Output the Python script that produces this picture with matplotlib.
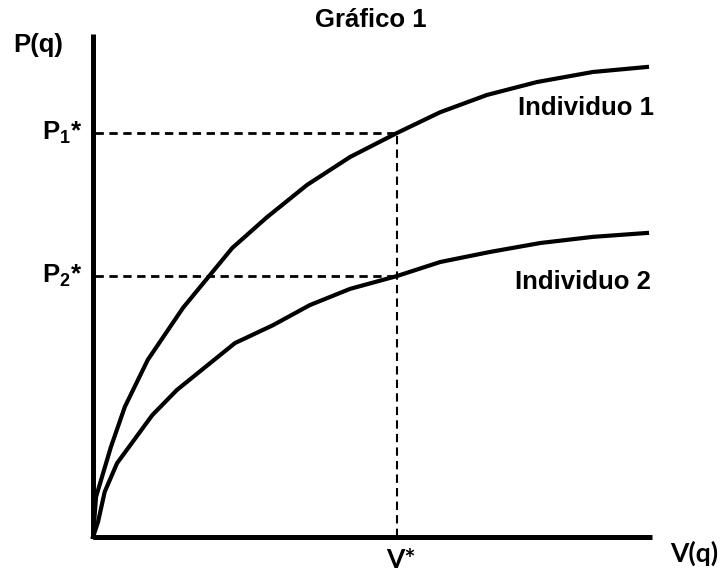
import matplotlib.pyplot as plt

plt.rcParams['font.family'] = ['Liberation Sans', 'DejaVu Sans']
plt.rcParams['mathtext.fontset'] = 'custom'
plt.rcParams['mathtext.rm'] = 'Liberation Sans'
plt.rcParams['mathtext.bf'] = 'Liberation Sans:bold'

# Curvas
v1 = [0, 0.054, 0.32, 0.57, 0.98, 1.61, 2.49, 3.11, 3.83, 4.60, 5.44, 6.21, 7.05, 7.94, 8.94, 9.91]
p1 = [0, 0.716, 1.61, 2.33, 3.17, 4.10, 5.17, 5.72, 6.30, 6.80, 7.23, 7.60, 7.91, 8.14, 8.32, 8.41]
v2 = [0, 0.09, 0.21, 0.43, 1.06, 1.50, 2.54, 3.22, 3.88, 4.60, 5.44, 6.21, 7.10, 8.00, 8.94, 9.91]
p2 = [0, 0.27, 0.81, 1.32, 2.18, 2.63, 3.47, 3.79, 4.15, 4.44, 4.67, 4.92, 5.10, 5.26, 5.37, 5.44]

v_star = 5.44
p1_star = 7.23
p2_star = 4.67

fig = plt.figure(figsize=(7.26, 5.71), dpi=100)
ax = fig.add_axes([93 / 726, 34 / 571, 559 / 726, 503 / 571])
ax.set_xlim(0, 10)
ax.set_ylim(0, 9)
ax.axis('off')

# eixos
ax.plot([0, 0], [0, 9], color='black', lw=3.6, clip_on=False, solid_capstyle='butt')
ax.plot([0, 10], [0, 0], color='black', lw=3.6, clip_on=False, solid_capstyle='butt')

# curvas
ax.plot(v1, p1, color='black', lw=3, clip_on=False)
ax.plot(v2, p2, color='black', lw=3, clip_on=False)

# linhas tracejadas
ax.plot([0.03, v_star], [p1_star, p1_star], color='black', lw=2, dashes=(3, 2), clip_on=False)
ax.plot([0.03, v_star], [p2_star, p2_star], color='black', lw=2, dashes=(3, 2), clip_on=False)
ax.plot([v_star, v_star], [0, p1_star], color='black', lw=1.5, dashes=(4, 2.5), clip_on=False)

fs = 18.5
ax.text(4.97, 9.25, 'Gráfico 1', ha='center', va='center', fontsize=fs, fontweight='bold', clip_on=False)
ax.text(-0.98, 8.80, 'P(q)', ha='center', va='center', fontsize=fs, fontweight='bold', clip_on=False)
ax.text(-0.2, p1_star, r'$\mathbf{P_1}$*', ha='right', va='center', fontsize=fs, fontweight='bold', clip_on=False)
ax.text(-0.2, p2_star, r'$\mathbf{P_2}$*', ha='right', va='center', fontsize=fs, fontweight='bold', clip_on=False)
ax.text(7.60, 7.67, 'Individuo 1', ha='left', va='center', fontsize=fs, fontweight='bold', clip_on=False)
ax.text(7.55, 4.56, 'Individuo 2', ha='left', va='center', fontsize=fs, fontweight='bold', clip_on=False)
ax.text(5.51, -0.41, 'V*', ha='center', va='center', fontsize=19, fontweight='bold',
        family=['Lato', 'DejaVu Sans'], clip_on=False)
ax.text(10.75, -0.29, 'V(q)', ha='center', va='center', fontsize=19, fontweight='bold',
        family=['Lato', 'DejaVu Sans'], clip_on=False)

fig.savefig('out.png', dpi=100)
